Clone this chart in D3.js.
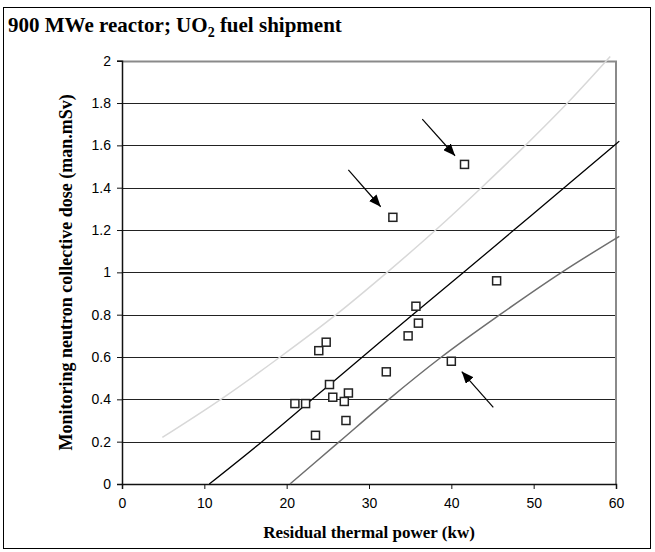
<!DOCTYPE html>
<html>
<head>
<meta charset="utf-8">
<script src="https://cdn.jsdelivr.net/npm/d3@7"></script>
<style>
  html, body { margin: 0; padding: 0; background: #fff; }
  svg { display: block; }
</style>
</head>
<body>
<svg id="chart" width="655" height="552"></svg>
<script>
// Measured shipments: residual thermal power (kW) vs. collective dose (man.mSv)
const powerKw = [41.6, 32.9, 45.5, 35.7, 36.0, 34.75, 24.8, 23.9, 32.1, 40.0, 25.2, 27.5, 25.6, 27.0, 21.0, 22.3, 27.2, 23.5];
const doseManMSv = [1.51, 1.26, 0.96, 0.84, 0.76, 0.70, 0.67, 0.63, 0.53, 0.58, 0.47, 0.43, 0.41, 0.39, 0.38, 0.38, 0.30, 0.23];

// Central regression line
const fitX = [10.6, 17.0, 23.1, 29.2, 35.3, 41.5, 47.6, 53.7, 60.4];
const fitY = [0.0, 0.2, 0.4, 0.6, 0.8, 1.0, 1.2, 1.4, 1.62];

// Upper bound curve
const upperX = [4.9, 12.0, 19.2, 26.0, 32.2, 38.1, 43.65, 49.0, 54.1, 59.3];
const upperY = [0.22, 0.4, 0.6, 0.8, 1.0, 1.2, 1.4, 1.6, 1.8, 2.02];

// Lower bound curve
const lowerX = [20.4, 26.4, 32.4, 38.8, 45.9, 53.4, 60.4];
const lowerY = [0.0, 0.2, 0.4, 0.6, 0.8, 1.0, 1.17];

// Annotation arrows pointing at outlying shipments: [fromX, fromY, toX, toY]
const arrows = [
  [36.47, 1.724, 40.45, 1.551],
  [27.49, 1.484, 31.42, 1.310],
  [45.10, 0.362, 41.26, 0.531]
];

const xTicks = [0, 10, 20, 30, 40, 50, 60];
const yTicks = [0, 0.2, 0.4, 0.6, 0.8, 1, 1.2, 1.4, 1.6, 1.8, 2];

const titleMain = "900 MWe reactor; UO";
const titleSub = "2";
const titleRest = " fuel shipment";
const xTitle = "Residual thermal power (kw)";
const yTitle = "Monitoring neutron collective dose (man.mSv)";

const svg = d3.select("#chart");
const plotLeft = 122, plotRight = 616, plotTop = 60.7, plotBottom = 484;

const x = d3.scaleLinear().domain([0, 60]).range([plotLeft, plotRight]);
const y = d3.scaleLinear().domain([0, 2]).range([plotBottom, plotTop]);

const serif = "'Liberation Serif', 'Times New Roman', serif";
const sans = "'Liberation Sans', Arial, sans-serif";

// outer frame
svg.append("rect")
  .attr("x", 3.5).attr("y", 7.5)
  .attr("width", 647).attr("height", 541)
  .attr("fill", "none").attr("stroke", "#000").attr("stroke-width", 1);

// title
const t = svg.append("text")
  .attr("x", 8).attr("y", 32)
  .attr("font-family", serif).attr("font-weight", "bold")
  .attr("font-size", 21).attr("fill", "#000");
t.append("tspan").text(titleMain);
t.append("tspan").attr("font-size", 14).attr("dy", 5).text(titleSub);
t.append("tspan").attr("dy", -5).text(titleRest);

// horizontal gridlines
svg.append("g")
  .selectAll("line")
  .data(yTicks.filter(d => d > 0 && d < 2))
  .join("line")
  .attr("x1", plotLeft).attr("x2", plotRight)
  .attr("y1", d => Math.round(y(d)) + 0.5).attr("y2", d => Math.round(y(d)) + 0.5)
  .attr("stroke", "#222").attr("stroke-width", 1);

// plot border (top and right)
svg.append("path")
  .attr("d", `M${plotLeft},${Math.round(plotTop) + 0.5}H${plotRight}V${plotBottom}`)
  .attr("fill", "none").attr("stroke", "#8a8a8a").attr("stroke-width", 2);

// axes
const xAxis = d3.axisBottom(x).tickValues(xTicks).tickSize(5).tickPadding(9).tickFormat(d3.format("d"));
const yAxis = d3.axisLeft(y).tickValues(yTicks).tickSize(5).tickPadding(6).tickFormat(d => d3.format("")(d));

const gx = svg.append("g").attr("transform", `translate(0,${plotBottom})`).call(xAxis);
const gy = svg.append("g").attr("transform", `translate(${plotLeft},0)`).call(yAxis);
[gx, gy].forEach(g => {
  g.select(".domain").attr("stroke", "#111").attr("stroke-width", 1.5);
  g.selectAll(".tick line").attr("stroke", "#111");
  g.selectAll(".tick text").attr("font-family", sans).attr("font-size", 14).attr("fill", "#000");
});

// curves
const line = d3.line().x(d => x(d[0])).y(d => y(d[1])).curve(d3.curveMonotoneX);
const plotCurve = (xs, ys, color, w) => svg.append("path")
  .datum(xs.map((v, i) => [v, ys[i]]))
  .attr("d", line)
  .attr("fill", "none").attr("stroke", color).attr("stroke-width", w);

plotCurve(upperX, upperY, "#d8d8d8", 1.5);
plotCurve(lowerX, lowerY, "#6e6e6e", 1.5);
plotCurve(fitX, fitY, "#000", 1.3);

// data markers
const sz = 8;
svg.append("g")
  .selectAll("rect")
  .data(powerKw.map((v, i) => [v, doseManMSv[i]]))
  .join("rect")
  .attr("x", d => x(d[0]) - sz / 2).attr("y", d => y(d[1]) - sz / 2)
  .attr("width", sz).attr("height", sz)
  .attr("fill", "#fff").attr("stroke", "#222").attr("stroke-width", 1.5);

// arrows
svg.append("defs").append("marker")
  .attr("id", "head")
  .attr("viewBox", "0 0 12 10")
  .attr("refX", 12).attr("refY", 5)
  .attr("markerWidth", 12).attr("markerHeight", 10)
  .attr("markerUnits", "userSpaceOnUse")
  .attr("orient", "auto")
  .append("path").attr("d", "M0,0L12,5L0,10Z").attr("fill", "#000");

svg.append("g")
  .selectAll("line")
  .data(arrows)
  .join("line")
  .attr("x1", d => x(d[0])).attr("y1", d => y(d[1]))
  .attr("x2", d => x(d[2])).attr("y2", d => y(d[3]))
  .attr("stroke", "#000").attr("stroke-width", 1.2)
  .attr("marker-end", "url(#head)");

// axis titles
svg.append("text")
  .attr("x", (plotLeft + plotRight) / 2).attr("y", 538)
  .attr("text-anchor", "middle")
  .attr("font-family", serif).attr("font-weight", "bold").attr("font-size", 17)
  .text(xTitle);

svg.append("text")
  .attr("transform", `translate(72,${(plotTop + plotBottom) / 2}) rotate(-90)`)
  .attr("text-anchor", "middle")
  .attr("font-family", serif).attr("font-weight", "bold").attr("font-size", 18)
  .text(yTitle);
</script>
</body>
</html>
